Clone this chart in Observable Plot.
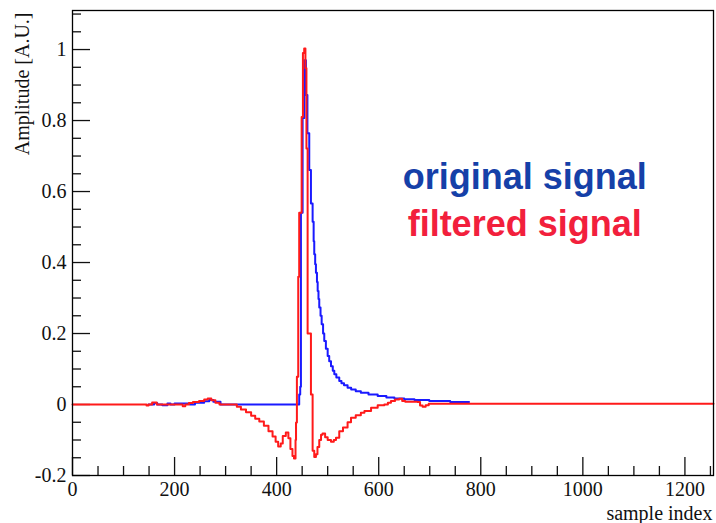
<!DOCTYPE html>
<html>
<head>
<meta charset="utf-8">
<script src="https://cdn.jsdelivr.net/npm/d3@7"></script>
<script src="https://cdn.jsdelivr.net/npm/@observablehq/plot@0.6"></script>
<style>
  html, body { margin: 0; padding: 0; background: #fff; }
  #chart { width: 716px; height: 523px; }
</style>
</head>
<body>
<div id="chart"></div>
<script>
// ---- data ----
const originalX = [149, 160, 166, 176, 186, 192, 200, 230, 240, 258, 268, 276, 290,
  444.2, 446.2, 447.6, 450.9, 454.4, 457.4, 460.3, 463.9, 467.2, 470.5, 472.5, 473.7, 475.5, 477,
  479, 480.4, 482, 483.5, 486, 488.2, 491, 493.3, 496.5, 500, 503, 506.5, 510, 513, 517, 522.7,
  527, 532, 539, 546, 555, 565, 580, 598, 615, 630.7, 650, 670, 699, 740, 777];
const originalY = [0, 0.004, 0, -0.002, 0.003, 0, 0.003, 0, 0.005, 0.009, 0.013, 0.008, 0,
  0.028, 0.05, 0.54, 0.807, 0.97, 0.872, 0.764, 0.661, 0.566, 0.515, 0.46, 0.423, 0.395, 0.371,
  0.345, 0.32, 0.297, 0.273, 0.25, 0.226, 0.2, 0.179, 0.157, 0.137, 0.122, 0.108, 0.095, 0.085, 0.076, 0.066,
  0.06, 0.054, 0.047, 0.042, 0.037, 0.033, 0.028, 0.024, 0.02, 0.017, 0.015, 0.013, 0.01, 0.007, 0.007];

const filteredX = [0, 145, 149, 156, 165, 173, 216, 221, 228, 236, 248, 258, 265, 272, 280, 288,
  316, 322, 330, 340, 350, 358, 366, 375, 384, 392, 398, 403, 408, 412, 418, 423, 427, 431, 434,
  437, 438, 439.7, 442.3, 444.2, 449, 451.5, 454, 456.4, 458.4, 460.7, 467.2, 470.5, 473.7, 477,
  480, 483.5, 487, 490, 495, 500, 506.5, 512, 516.3, 522.7, 530, 539, 545.7, 555, 565, 572, 585,
  598, 611, 618, 624, 632, 640, 646, 652, 676, 681, 686, 692, 698, 1256];
const filteredY = [0, -0.003, 0, 0.006, 0, 0, -0.005, 0, 0.004, 0.007, 0.01, 0.014, 0.017, 0.012, 0.005, 0,
  0, -0.006, -0.014, -0.022, -0.032, -0.04, -0.048, -0.06, -0.075, -0.09, -0.105, -0.118, -0.11, -0.089, -0.079, -0.095, -0.125, -0.145, -0.152,
  -0.1, -0.051, 0.078, 0.36, 0.54, 0.81, 0.99, 1.003, 0.947, 0.721, 0.2, 0.028, -0.13, -0.148, -0.14,
  -0.12, -0.1, -0.085, -0.082, -0.092, -0.1, -0.105, -0.1, -0.094, -0.075, -0.065, -0.05, -0.037, -0.03, -0.023, -0.018, -0.009,
  -0.002, 0, 0.005, 0.01, 0.014, 0.016, 0.01, 0.008, 0.007, -0.003, -0.006, -0.002, 0.002, 0.002];

const xMajorTicks = [0, 200, 400, 600, 800, 1000, 1200];
const yMajorTicks = [-0.2, 0, 0.2, 0.4, 0.6, 0.8, 1];
const legendTexts = ["original signal", "filtered signal"];

// ---- build tables ----
const original = originalX.map((x, i) => ({x, y: originalY[i]}));
const filtered = filteredX.map((x, i) => ({x, y: filteredY[i]}));
const xMinor = d3.range(0, 1251, 50).filter(v => v % 200 !== 0);
const yMinor = d3.range(-20, 111, 5).map(v => v / 100).filter(v => Math.round(v * 100) % 20 !== 0);

const W = 716, H = 523, mL = 72, mR = 3, mT = 10, mB = 48;
const plotW = W - mL - mR, plotH = H - mT - mB;
const serif = "'Liberation Serif', 'Times New Roman', serif";
const sans = "'Liberation Sans', Arial, sans-serif";

const chart = Plot.plot({
  width: W, height: H,
  marginLeft: mL, marginRight: mR, marginTop: mT, marginBottom: mB,
  style: {fontFamily: serif, fontSize: "20px", background: "#fff", overflow: "visible"},
  x: {domain: [0, 1256], axis: null},
  y: {domain: [-0.2, 1.11], axis: null},
  marks: [
    // inward ticks
    Plot.tickY(yMajorTicks, {y: d => d, insetRight: plotW - 18, stroke: "#111", strokeWidth: 1.3}),
    Plot.tickY(yMinor, {y: d => d, insetRight: plotW - 9, stroke: "#111", strokeWidth: 1.3}),
    Plot.tickX(xMajorTicks, {x: d => d, insetTop: plotH - 18, stroke: "#111", strokeWidth: 1.3}),
    Plot.tickX(xMinor, {x: d => d, insetTop: plotH - 9, stroke: "#111", strokeWidth: 1.3}),
    // signals
    Plot.line(original, {x: "x", y: "y", curve: "step-after", stroke: "#1a1aff", strokeWidth: 2}),
    Plot.line(filtered, {x: "x", y: "y", curve: "step-after", stroke: "#ff1a1a", strokeWidth: 2}),
    Plot.frame({stroke: "#000", strokeWidth: 1.3}),
    // tick labels
    Plot.axisY({ticks: yMajorTicks, tickSize: 0, tickPadding: 6, label: null,
      tickFormat: d => String(+d.toFixed(2)), fontSize: 20, fill: "#111"}),
    Plot.axisX({ticks: xMajorTicks, tickSize: 0, tickPadding: 6, label: null,
      tickFormat: d => String(d), fontSize: 20, fill: "#111"}),
    // axis titles
    Plot.text(["sample index"], {frameAnchor: "bottom-right", textAnchor: "end", lineAnchor: "bottom",
      dx: -1, dy: 44, fontSize: 20, fill: "#111"}),
    Plot.text(["Amplitude [A.U.]"], {frameAnchor: "top-left", textAnchor: "end", lineAnchor: "bottom",
      rotate: -90, dx: -44, dy: 2, fontSize: 20, fill: "#111"}),
    // legend texts
    Plot.text([legendTexts[0]], {x: 886, y: 0.608, textAnchor: "middle", lineAnchor: "bottom",
      fontFamily: sans, fontWeight: "bold", fontSize: 36, fill: "#1540a8"}),
    Plot.text([legendTexts[1]], {x: 886, y: 0.476, textAnchor: "middle", lineAnchor: "bottom",
      fontFamily: sans, fontWeight: "bold", fontSize: 36, fill: "#f2203c"})
  ]
});
document.getElementById("chart").appendChild(chart);
</script>
</body>
</html>
